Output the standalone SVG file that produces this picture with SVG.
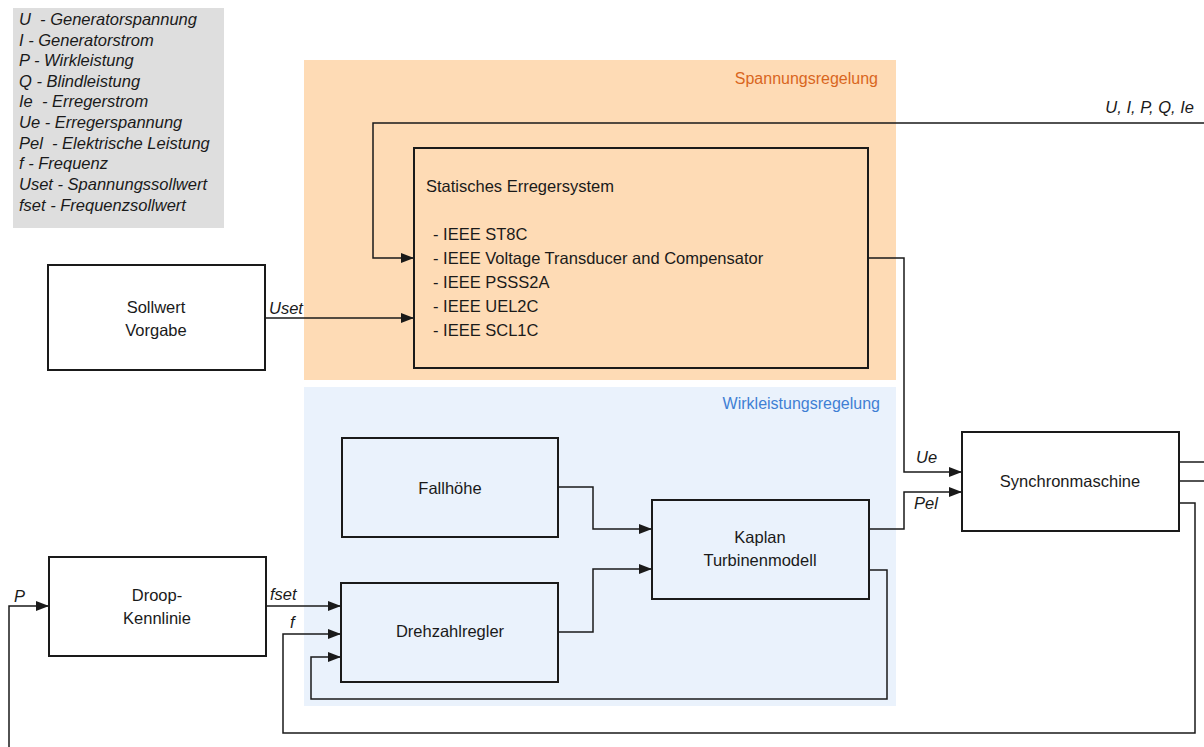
<svg xmlns="http://www.w3.org/2000/svg" width="1204" height="747" viewBox="0 0 1204 747">
<style>
text{font-family:"Liberation Sans",Arial,sans-serif;font-size:16.5px;fill:#1a1a1a}
.it{font-style:italic}
.lg{font-size:16.5px}
.rl{font-size:16px}
.box{stroke:#1a1a1a;stroke-width:2}
.c{fill:none;stroke:#1a1a1a;stroke-width:1.5}
.ca{fill:none;stroke:#1a1a1a;stroke-width:1.5;marker-end:url(#ah)}
.mid{text-anchor:middle}
</style>
<defs>
<marker id="ah" markerUnits="userSpaceOnUse" markerWidth="14" markerHeight="10" refX="13" refY="5" orient="auto">
<path d="M0,0 L13,5 L0,10 z" fill="#1a1a1a"/>
</marker>
</defs>
<rect width="1204" height="747" fill="#ffffff"/>
<g id="legend">
<rect x="13" y="8" width="211" height="220" fill="#dedede"/>
<text class="it lg" x="19" y="25" xml:space="preserve">U  - Generatorspannung</text>
<text class="it lg" x="19" y="46" xml:space="preserve">I - Generatorstrom</text>
<text class="it lg" x="19" y="66" xml:space="preserve">P - Wirkleistung</text>
<text class="it lg" x="19" y="87" xml:space="preserve">Q - Blindleistung</text>
<text class="it lg" x="19" y="107" xml:space="preserve">Ie  - Erregerstrom</text>
<text class="it lg" x="19" y="128" xml:space="preserve">Ue - Erregerspannung</text>
<text class="it lg" x="19" y="149" xml:space="preserve">Pel  - Elektrische Leistung</text>
<text class="it lg" x="19" y="169" xml:space="preserve">f - Frequenz</text>
<text class="it lg" x="19" y="190" xml:space="preserve">Uset - Spannungssollwert</text>
<text class="it lg" x="19" y="211" xml:space="preserve">fset - Frequenzsollwert</text>
</g>
<g id="spannungsregelung">
<rect x="304" y="60" width="592" height="320" fill="#fedbb5"/>
<text class="rl" x="878" y="84" text-anchor="end" style="fill:#d9661e">Spannungsregelung</text>
</g>
<g id="wirkleistungsregelung">
<rect x="304" y="387" width="592" height="319" fill="#eaf2fc"/>
<text class="rl" x="880" y="409" text-anchor="end" style="fill:#3f7fd4">Wirkleistungsregelung</text>
</g>
<g id="connectors">
<path class="ca" d="M1204,123 H373 V258 H414"/>
<path class="ca" d="M265,318 H414"/>
<path class="ca" d="M868,258 H904 V472 H962"/>
<path class="ca" d="M868,529 H904 V492 H962"/>
<path class="ca" d="M558,487 H593 V529 H652"/>
<path class="ca" d="M558,632 H593 V569 H652"/>
<path class="ca" d="M868,570 H887 V699 H311 V657 H341"/>
<path class="ca" d="M1178,503 H1195 V733 H283 V634 H341"/>
<path class="ca" d="M266,606 H341"/>
<path class="ca" d="M9,747 V606 H49"/>
<path class="c" d="M1178,462 H1204"/>
<path class="c" d="M1178,481 H1204"/>
<text class="it" x="1194" y="113" text-anchor="end">U, I, P, Q, Ie</text>
<text class="it" x="269" y="314">Uset</text>
<text class="it" x="916" y="463">Ue</text>
<text class="it" x="914" y="509">Pel</text>
<text class="it" x="270" y="600">fset</text>
<text class="it" x="290" y="628">f</text>
<text class="it" x="14" y="602">P</text>
</g>
<g id="erregersystem">
<rect class="box" x="414" y="148" width="454" height="220" fill="none"/>
<text x="426" y="192">Statisches Erregersystem</text>
<text x="433" y="240">- IEEE ST8C</text>
<text x="433" y="264">- IEEE Voltage Transducer and Compensator</text>
<text x="433" y="288">- IEEE PSSS2A</text>
<text x="433" y="312">- IEEE UEL2C</text>
<text x="433" y="336">- IEEE SCL1C</text>
</g>
<g id="sollwert">
<rect class="box" x="48" y="265" width="217" height="105" fill="#ffffff"/>
<text class="mid" x="156" y="313">Sollwert</text>
<text class="mid" x="156" y="336">Vorgabe</text>
</g>
<g id="droop">
<rect class="box" x="49" y="557" width="217" height="99" fill="#ffffff"/>
<text class="mid" x="157" y="601">Droop-</text>
<text class="mid" x="157" y="624">Kennlinie</text>
</g>
<g id="fallhoehe">
<rect class="box" x="342" y="438" width="216" height="99" fill="none"/>
<text class="mid" x="450" y="494">Fallhöhe</text>
</g>
<g id="drehzahlregler">
<rect class="box" x="341" y="583" width="217" height="99" fill="none"/>
<text class="mid" x="450" y="637">Drehzahlregler</text>
</g>
<g id="kaplan">
<rect class="box" x="652" y="500" width="217" height="99" fill="none"/>
<text class="mid" x="760" y="543">Kaplan</text>
<text class="mid" x="760" y="566">Turbinenmodell</text>
</g>
<g id="synchronmaschine">
<rect class="box" x="962" y="432" width="217" height="99" fill="#ffffff"/>
<text class="mid" x="1070" y="487">Synchronmaschine</text>
</g>
</svg>
